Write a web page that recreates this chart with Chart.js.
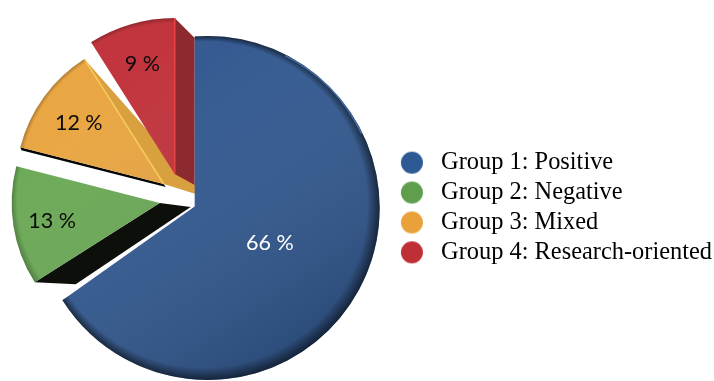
<!DOCTYPE html>
<html>
<head>
<meta charset="utf-8">
<script src="https://cdn.jsdelivr.net/npm/chart.js@4"></script>
<style>
  html, body { margin: 0; padding: 0; background: #fff; }
  #wrap { width: 714px; height: 381px; }
</style>
</head>
<body>
<div id="wrap"><canvas id="groups" width="714" height="381"></canvas></div>
<script>
const labels = ['Group 1: Positive', 'Group 2: Negative', 'Group 3: Mixed', 'Group 4: Research-oriented'];
const values = [66, 13, 12, 9];
const colors = ['#315890', '#6aa955', '#e9a540', '#c1313a'];
const legendColors = ['#2d5a94', '#5f9e4c', '#e9a23b', '#bf2f36'];
const labelColors = ['#ffffff', '#0c0c0c', '#0c0c0c', '#0c0c0c'];

// how far each slice is moved from the pie centre, and its own radius
const pull = [{ dx: 13, dy: 0.5, r: 172 }, { dx: -35, dy: -4.5, r: 148 }, { dx: -31, dy: -23.5, r: 148 }, { dx: -20, dy: -33.5, r: 156 }];
// distance of the percent text from the tip of its slice
const labelDist = [71, 109, 105, 116];
// the big slice leans left of its round edge, this is the corner it reaches to
const neck = { dx: -13, dy: -1.5 };

// the cut faces of the pulled slices, shifted from the slice edge
const walls = [
  { i: 1, side: 'start', color: '#0d0f0b', inner: [31, 4], outer: [41, 2] },
  { i: 2, side: 'start', color: '#050505', inner: [2, 3], outer: [1, 3] },
  { i: 2, side: 'end', color: '#d9a040', inner: [32, 10], outer: [0, 0], extra: [32, 1] },
  { i: 3, side: 'end', color: '#8c2a2f', inner: [20, 11], outer: [20, 20] },
];
const edgeLights = { 2: '#f8ca5c', 3: '#ea4446' };

const dot = (color) => {
  const c = document.createElement('canvas');
  c.width = c.height = 24;
  const g = c.getContext('2d');
  g.fillStyle = color;
  g.beginPath();
  g.arc(12, 12, 11, 0, Math.PI * 2);
  g.fill();
  return c;
};

// runs a little inside the round part so no seam shows where they join
const neckPath = (ctx, a) => {
  const r = a.outerRadius;
  ctx.moveTo(a.x + neck.dx, a.y - r + 0.5);
  ctx.lineTo(a.x, a.y - r);
  ctx.lineTo(a.x + 4, a.y - r + 10);
  ctx.lineTo(a.x + 8, a.y + 8);
  ctx.lineTo(a.x + r * Math.cos(a.endAngle) + 6, a.y + r * Math.sin(a.endAngle));
  ctx.lineTo(a.x + r * Math.cos(a.endAngle), a.y + r * Math.sin(a.endAngle));
  ctx.lineTo(a.x + neck.dx, a.y + neck.dy);
  ctx.closePath();
};

const pieces = {
  id: 'pieces',
  afterDatasetsUpdate(chart) {
    chart.getDatasetMeta(0).data.forEach((arc, i) => {
      arc.x += pull[i].dx;
      arc.y += pull[i].dy;
      arc.outerRadius = pull[i].r;
    });
  },
  beforeDatasetsDraw(chart) {
    const ctx = chart.ctx;
    const arcs = chart.getDatasetMeta(0).data;
    for (const w of walls) {
      const a = arcs[w.i];
      const ang = w.side === 'start' ? a.startAngle : a.endAngle;
      const ox = a.x + a.outerRadius * Math.cos(ang);
      const oy = a.y + a.outerRadius * Math.sin(ang);
      ctx.fillStyle = w.color;
      ctx.beginPath();
      ctx.moveTo(a.x, a.y);
      ctx.lineTo(a.x + w.inner[0], a.y + w.inner[1]);
      if (w.extra) ctx.lineTo(a.x + w.extra[0], a.y + w.extra[1]);
      ctx.lineTo(ox + w.outer[0], oy + w.outer[1]);
      ctx.lineTo(ox, oy);
      ctx.closePath();
      ctx.fill();
    }
    ctx.fillStyle = colors[0];
    ctx.beginPath();
    neckPath(ctx, arcs[0]);
    ctx.fill();
  },
  afterDatasetsDraw(chart) {
    const ctx = chart.ctx;
    chart.getDatasetMeta(0).data.forEach((a, i) => {
      const r = a.outerRadius;
      ctx.save();
      ctx.beginPath();
      ctx.moveTo(a.x, a.y);
      ctx.arc(a.x, a.y, r, a.startAngle, a.endAngle);
      ctx.closePath();
      if (i === 0) neckPath(ctx, a);
      ctx.clip();

      // soft sheen, darker towards the lower right
      const sheen = ctx.createLinearGradient(a.x - r * 0.5, a.y - r * 0.5, a.x + r * 0.5, a.y + r);
      sheen.addColorStop(0, 'rgba(255,255,255,0.02)');
      sheen.addColorStop(1, 'rgba(0,0,0,0.2)');
      ctx.fillStyle = sheen;
      ctx.fillRect(0, 0, chart.width, chart.height);

      // dark rounded rim, only really shows on the lower right
      const rim = ctx.createRadialGradient(a.x - 3.5, a.y - 3.5, r - 9, a.x, a.y, r);
      rim.addColorStop(0, 'rgba(0,0,0,0)');
      rim.addColorStop(1, i === 0 ? 'rgba(0,0,0,0.55)' : 'rgba(0,0,0,0.25)');
      ctx.fillStyle = rim;
      ctx.fillRect(0, 0, chart.width, chart.height);
      ctx.restore();

      if (i === 0) {
        // bright catch on the upper right of the rim
        ctx.strokeStyle = 'rgba(96,150,225,0.6)';
        ctx.lineWidth = 1.5;
        ctx.beginPath();
        ctx.arc(a.x, a.y, r - 1, -1.1, -0.45);
        ctx.stroke();
      }

      if (edgeLights[i]) {
        ctx.strokeStyle = edgeLights[i];
        ctx.lineWidth = 1.5;
        ctx.beginPath();
        ctx.moveTo(a.x, a.y);
        ctx.lineTo(a.x + r * Math.cos(a.endAngle), a.y + r * Math.sin(a.endAngle));
        ctx.stroke();
      }

      const mid = (a.startAngle + a.endAngle) / 2;
      ctx.fillStyle = labelColors[i];
      ctx.font = '21.5px Lato';
      ctx.textAlign = 'center';
      ctx.textBaseline = 'middle';
      ctx.fillText(values[i] + ' %', a.x + labelDist[i] * Math.cos(mid), a.y + 1 + labelDist[i] * Math.sin(mid));
    });
  },
};

new Chart(document.getElementById('groups'), {
  type: 'pie',
  data: {
    labels,
    datasets: [{ data: values, backgroundColor: colors, borderWidth: 0 }],
  },
  options: {
    responsive: false,
    animation: false,
    layout: { padding: { top: 35, bottom: 1, right: -8, left: -8 } },
    plugins: {
      tooltip: { enabled: false },
      legend: {
        position: 'right',
        labels: {
          usePointStyle: true,
          pointStyleWidth: 34,
          padding: 5.5,
          color: '#111',
          font: { family: 'Liberation Serif', size: 24.4 },
          generateLabels: () => labels.map((text, i) => ({
            text,
            index: i,
            pointStyle: dot(legendColors[i]),
            fillStyle: legendColors[i],
            lineWidth: 0,
          })),
        },
      },
    },
  },
  plugins: [pieces],
});
</script>
</body>
</html>
